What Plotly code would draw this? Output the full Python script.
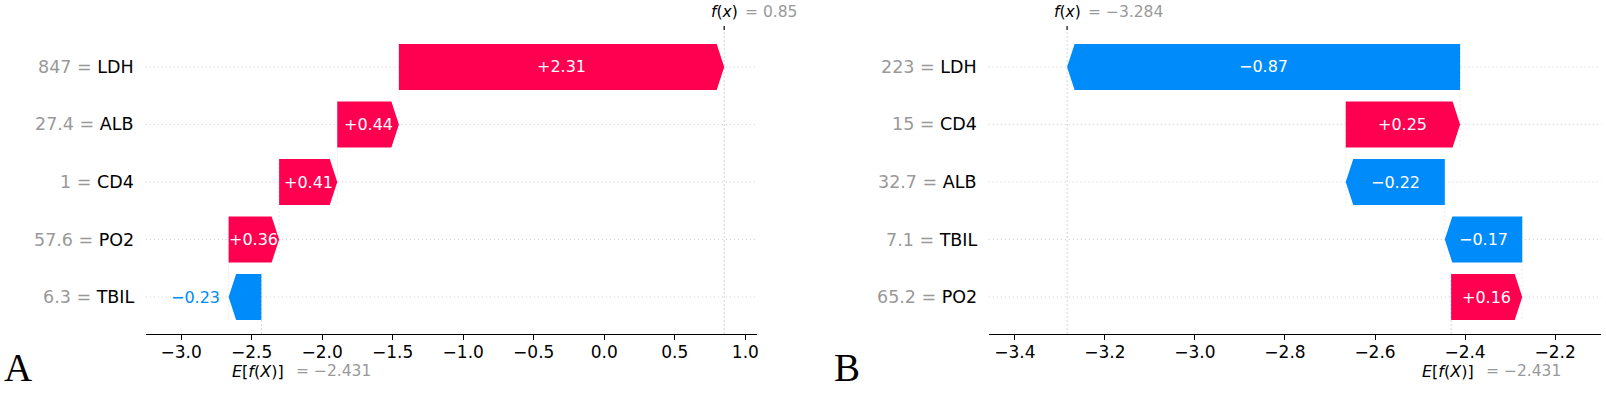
import plotly.graph_objects as go

W, H = 1606, 395

# ---------------- data ----------------
A_features = ["LDH", "ALB", "CD4", "PO2", "TBIL"]          # top -> bottom
A_feature_values = ["847", "27.4", "1", "57.6", "6.3"]
A_shap = [2.306, 0.437, 0.412, 0.358, -0.232]
A_base = -2.431
A_ticks = [-3.0, -2.5, -2.0, -1.5, -1.0, -0.5, 0.0, 0.5, 1.0]
A_xrange = [-3.25, 1.083]

B_features = ["LDH", "CD4", "ALB", "TBIL", "PO2"]          # top -> bottom
B_feature_values = ["223", "15", "32.7", "7.1", "65.2"]
B_shap = [-0.873, 0.254, -0.220, -0.172, 0.158]
B_base = -2.431
B_ticks = [-3.4, -3.2, -3.0, -2.8, -2.6, -2.4, -2.2]
B_xrange = [-3.458, -2.098]

POS = "#ff0051"
NEG = "#008bfb"
GRAY = "#999999"
FONT = "DejaVu Sans"

Y_RANGE = [-0.643, 4.643]
Y_TOP_PX, Y_BOT_PX = 30, 334
BAR_H = 0.8
HEAD_PX = 7.5


def fmt(v, nd):
    s = f"{v:.{nd}f}"
    return s.replace("-", "\u2212")


def fmt_val(v):
    s = f"{v:.3f}".rstrip("0").rstrip(".")
    return s.replace("-", "\u2212")


fig = go.Figure()
shapes = []
annotations = []


def panel(xa, ya, features, fvals, shap, base, xrange, xdom_px, ticks, letter, letter_x):
    n = len(features)
    ppu = (xdom_px[1] - xdom_px[0]) / (xrange[1] - xrange[0])
    hl = HEAD_PX / ppu
    xref = "x" if xa == "x" else xa
    yref = "y" if ya == "y" else ya
    loc = base
    for k in range(n - 1, -1, -1):
        row = n - 1 - k
        s = loc
        e = loc + shap[k]
        loc = e
        color = POS if shap[k] > 0 else NEG
        d = 1 if e > s else -1
        top, bot = row + BAR_H / 2, row - BAR_H / 2
        h = min(hl, abs(e - s))
        xs = [s, e - d * h, e, e - d * h, s, s]
        ys = [bot, bot, row, top, top, bot]
        fig.add_trace(go.Scatter(x=xs, y=ys, fill="toself", fillcolor=color, mode="lines",
                                 line=dict(width=0, color=color), xaxis=xa, yaxis=ya,
                                 hoverinfo="skip", showlegend=False))
        # value label
        label = ("+" if shap[k] > 0 else "\u2212") + f"{abs(shap[k]):.2f}"
        text_w = 16 * (0.838 + 0.636 * 3 + 0.318)
        bar_w = abs(e - s) * ppu
        if text_w < bar_w:
            annotations.append(dict(x=(s + e) / 2, y=row, xref=xref, yref=yref, text=label,
                                    showarrow=False, xanchor="center", yanchor="middle",
                                    font=dict(family=FONT, size=16, color="white")))
        else:
            annotations.append(dict(x=e, y=row, xref=xref, yref=yref, text=label,
                                    showarrow=False, xanchor="right" if d < 0 else "left",
                                    xshift=-7 if d < 0 else 7, yanchor="middle",
                                    font=dict(family=FONT, size=16, color=color)))
        # connector line at start of bar (not bottom row)
        if row > 0:
            shapes.append(dict(type="line", xref=xref, yref=yref, x0=s, x1=s,
                               y0=row + 0.4, y1=row - 1 - 0.4, layer="below",
                               line=dict(color="#dddddd", width=0.6, dash="2px,2px")))
        # horizontal dotted guide
        shapes.append(dict(type="line", xref=xref + " domain", yref=yref, x0=0, x1=1,
                           y0=row, y1=row, layer="below",
                           line=dict(color="#cccccc", width=1, dash="1px,3px")))
        # y label
        annotations.append(dict(x=0, y=row, xref=xref + " domain", yref=yref,
                                text=f"<span style='color:{GRAY}'>{fvals[k]} = </span>{features[k]}",
                                showarrow=False, xanchor="right", xshift=-10, yanchor="middle",
                                font=dict(family=FONT, size=17.5, color="black")))
    fx = loc
    # f(x) vertical line full height
    shapes.append(dict(type="line", xref=xref, yref=yref + " domain", x0=fx, x1=fx, y0=0, y1=1,
                       layer="below", line=dict(color="#c4c4c4", width=0.7, dash="2px,2px")))
    # base line lower part
    shapes.append(dict(type="line", xref=xref, yref=yref + " domain", x0=base, x1=base, y0=0, y1=0.2,
                       layer="below", line=dict(color="#c4c4c4", width=0.7, dash="2px,2px")))
    # small tick above f(x)
    shapes.append(dict(type="line", xref=xref, yref=yref + " domain", x0=fx, x1=fx, y0=1.0,
                       y1=1.0 + 4 / (Y_BOT_PX - Y_TOP_PX), line=dict(color="black", width=1.2)))
    # f(x) labels
    annotations.append(dict(x=fx, y=1 - 12 / H, xref=xref, yref="paper", text="<i>f</i>(<i>x</i>)",
                            showarrow=False, xanchor="center", yanchor="middle",
                            font=dict(family=FONT, size=15.5, color="black")))
    annotations.append(dict(x=fx, y=1 - 12 / H, xref=xref, yref="paper", text=f"= {fmt_val(fx)}",
                            showarrow=False, xanchor="left", xshift=19, yanchor="middle",
                            font=dict(family=FONT, size=15.5, color=GRAY)))
    # E[f(X)] labels
    annotations.append(dict(x=base, y=1 - 371 / H, xref=xref, yref="paper",
                            text="<i>E</i>[<i>f</i>(<i>X</i>)]",
                            showarrow=False, xanchor="center", xshift=-3, yanchor="middle",
                            font=dict(family=FONT, size=16, color="black")))
    annotations.append(dict(x=base, y=1 - 371 / H, xref=xref, yref="paper", text=f"= {fmt_val(base)}",
                            showarrow=False, xanchor="left", xshift=33, yanchor="middle",
                            font=dict(family=FONT, size=15.5, color=GRAY)))
    # panel letter
    annotations.append(dict(x=letter_x / W, y=4 / H, xref="paper", yref="paper", text=letter,
                            showarrow=False, xanchor="left", yanchor="bottom",
                            font=dict(family="Liberation Serif", size=39, color="black")))
    return dict(
        domain=[xdom_px[0] / W, xdom_px[1] / W], range=xrange,
        tickvals=ticks, ticktext=[fmt(t, 1) for t in ticks],
        showline=True, linecolor="black", linewidth=1.3, ticks="outside", ticklen=5,
        tickwidth=1.1, tickcolor="black", showgrid=False, zeroline=False,
        ticklabelstandoff=-3,
        tickfont=dict(family=FONT, size=17, color="black"), fixedrange=True,
    )


xA = panel("x", "y", A_features, A_feature_values, A_shap, A_base, A_xrange, (146, 758), A_ticks, "A", 2)
xB = panel("x2", "y2", B_features, B_feature_values, B_shap, B_base, B_xrange, (990, 1603), B_ticks, "B", 833)

ydom = [1 - Y_BOT_PX / H, 1 - Y_TOP_PX / H]
yax = dict(domain=ydom, range=Y_RANGE, showgrid=False, zeroline=False, showline=False,
           showticklabels=False, ticks="", fixedrange=True)

fig.update_layout(
    width=W, height=H, margin=dict(l=0, r=0, t=0, b=0),
    paper_bgcolor="white", plot_bgcolor="white",
    xaxis=dict(**xA, anchor="y"), yaxis=dict(**yax, anchor="x"),
    xaxis2=dict(**xB, anchor="y2"), yaxis2=dict(**yax, anchor="x2"),
    shapes=shapes, annotations=annotations, showlegend=False,
    font=dict(family=FONT),
)

fig.write_html("out.html", config={"displayModeBar": False},
               post_script="document.body.style.margin='0';document.body.style.overflow='hidden';")
